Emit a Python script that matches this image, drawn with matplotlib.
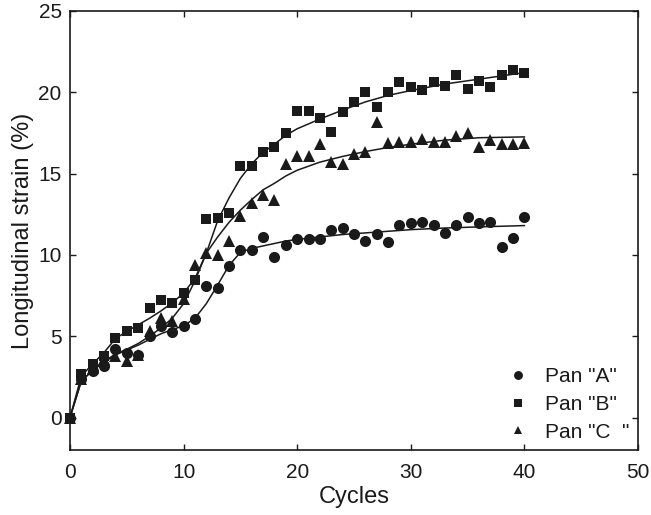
import matplotlib
matplotlib.use("Agg")
import matplotlib.pyplot as plt
import numpy as np

plt.rcParams['font.family'] = ['Liberation Sans', 'DejaVu Sans']

cycles = list(range(0, 41))

pan_a = [0, 2.4, 2.85, 3.2, 4.2, 3.95, 3.87, 5.03, 5.6, 5.23, 5.64, 6.03, 8.06, 7.95, 9.33,
         10.3, 10.3, 11.1, 9.84, 10.63, 11.0, 11.0, 10.96, 11.5, 11.64, 11.27, 10.88, 11.27,
         10.78, 11.84, 11.94, 12.0, 11.84, 11.37, 11.84, 12.31, 11.94, 12.0, 10.47, 11.02, 12.31]

pan_b = [0, 2.7, 3.28, 3.8, 4.9, 5.3, 5.5, 6.73, 7.22, 7.03, 7.67, 8.47, 12.19, 12.25, 12.6,
         15.48, 15.48, 16.3, 16.6, 17.46, 18.87, 18.87, 18.42, 17.57, 18.8, 19.39, 20.02, 19.06,
         20.02, 20.63, 20.33, 20.12, 20.63, 20.37, 21.04, 20.22, 20.7, 20.33, 21.04, 21.35, 21.19]

pan_c = [0, 2.35, 3.05, 3.6, 3.8, 3.45, 3.85, 5.35, 6.1, 5.96, 7.3, 9.39, 10.1, 10.0, 10.86,
         12.4, 13.2, 13.7, 13.4, 15.56, 16.1, 16.1, 16.8, 15.7, 15.6, 16.2, 16.34, 18.18,
         16.89, 16.95, 16.95, 17.1, 16.95, 16.95, 17.3, 17.46, 16.65, 17.06, 16.81, 16.81, 16.85]

fit_x = [0, 1, 2, 3, 4, 5, 6, 7, 8, 9, 10, 11, 12, 13, 14, 15, 16, 17, 18, 19, 20,
         22, 24, 26, 28, 30, 33, 36, 40]
fit_a = [0, 2.25, 2.9, 3.4, 3.85, 4.15, 4.45, 4.8, 5.15, 5.4, 5.65, 6.1, 7.0, 8.15, 9.35,
         10.15, 10.4, 10.55, 10.7, 10.85, 10.95, 11.1, 11.25, 11.35, 11.45, 11.55, 11.65, 11.72, 11.8]
fit_b = [0, 2.55, 3.3, 4.0, 4.85, 5.3, 5.7, 6.1, 6.55, 7.05, 7.65, 8.55, 10.1, 12.1, 13.5,
         14.7, 15.6, 16.3, 16.8, 17.35, 17.75, 18.35, 18.9, 19.4, 19.8, 20.1, 20.5, 20.8, 21.2]
fit_c = [0, 2.25, 2.9, 3.45, 3.9, 4.2, 4.55, 5.0, 5.5, 6.1, 7.0, 8.4, 10.1, 11.1, 12.0,
         12.75, 13.4, 14.0, 14.4, 14.85, 15.2, 15.7, 16.05, 16.35, 16.6, 16.8, 17.05, 17.2, 17.25]

labels = ['Pan "A"', 'Pan "B"', 'Pan "C  "']
xticks = [0, 10, 20, 30, 40, 50]
yticks = [0, 5, 10, 15, 20, 25]

fig = plt.figure(figsize=(6.51, 5.15), dpi=100)
ax = fig.add_axes([0.1075, 0.126, 0.8725, 0.853])

col = '#1a1a1a'
ax.plot(fit_x, fit_a, color=col, lw=1.1, zorder=2)
ax.plot(fit_x, fit_b, color=col, lw=1.1, zorder=2)
ax.plot(fit_x, fit_c, color=col, lw=1.1, zorder=2)

ax.plot(cycles, pan_a, 'o', color=col, ms=8, mew=0, label=labels[0], zorder=3, clip_on=False)
ax.plot(cycles, pan_b, 's', color=col, ms=7.8, mew=0, label=labels[1], zorder=3, clip_on=False)
ax.plot(cycles, pan_c, '^', color=col, ms=8, mew=0, label=labels[2], zorder=3, clip_on=False)

ax.set_xlim(0, 50)
ax.set_ylim(-2, 25)
ax.set_xticks(xticks)
ax.set_yticks(yticks)
ax.tick_params(direction='in', length=4, width=1, top=True, right=True, labelsize=15,
               colors=col)
ax.tick_params(axis='x', pad=9)
ax.tick_params(axis='y', pad=6)
for s in ax.spines.values():
    s.set_linewidth(1.2)
    s.set_color(col)

ax.set_xlabel('Cycles', fontsize=17, color=col, labelpad=3)
ax.set_ylabel('Longitudinal strain (%)', fontsize=17, color=col, labelpad=3)

leg = ax.legend(loc='lower right', frameon=False, fontsize=15, markerscale=0.8,
                handlelength=1.0, handletextpad=0.8, labelspacing=0.42,
                borderaxespad=0.0)
for t in leg.get_texts():
    t.set_color(col)

fig.savefig('out.png', dpi=100)
